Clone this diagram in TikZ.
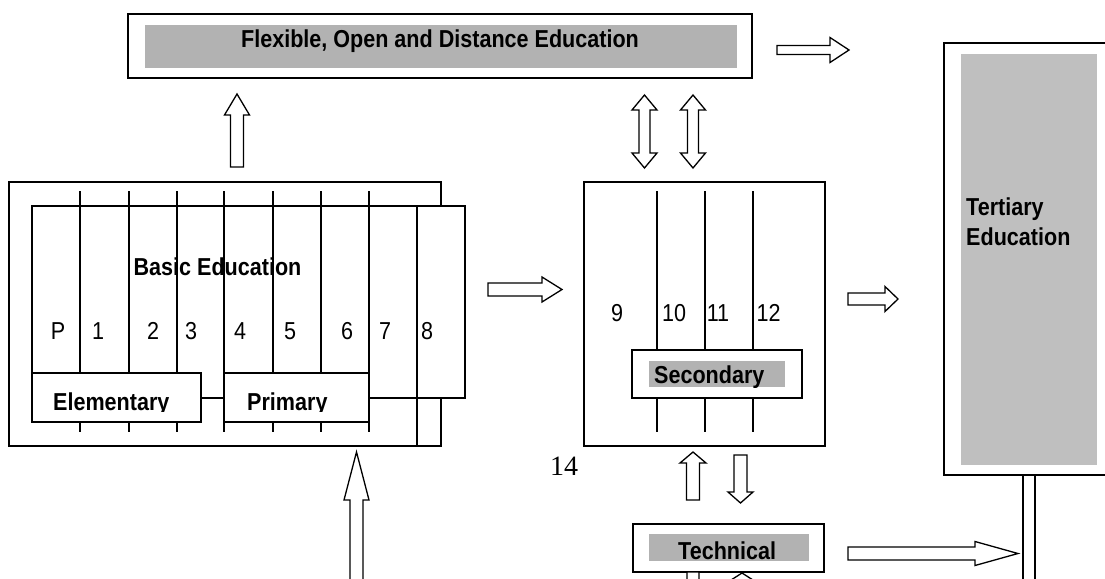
\documentclass[tikz,border=0pt]{standalone}
\usepackage{fontspec}
\setmainfont[FakeStretch=0.88]{Liberation Sans}
\newfontfamily\serf{Liberation Serif}
\definecolor{gA}{gray}{0.70}
\definecolor{gB}{gray}{0.75}
% horizontal block arrow: x tail, x head base, x tip, y, shaft half, head half
\newcommand\myharr[6]{\draw[blk] (#1,#4-#5) -- (#2,#4-#5) -- (#2,#4-#6) -- (#3,#4) -- (#2,#4+#6) -- (#2,#4+#5) -- (#1,#4+#5) -- cycle;}
% vertical block arrow: x, y tail, y head base, y tip, shaft half, head half
\newcommand\myvarr[6]{\draw[blk] (#1-#5,#2) -- (#1-#5,#3) -- (#1-#6,#3) -- (#1,#4) -- (#1+#6,#3) -- (#1+#5,#3) -- (#1+#5,#2) -- cycle;}
% vertical double arrow: x, tip1, base1, base2, tip2, shaft half, head half
\newcommand\mydarr[7]{\draw[blk] (#1,#2) -- (#1+#7,#3) -- (#1+#6,#3) -- (#1+#6,#4) -- (#1+#7,#4) -- (#1,#5) -- (#1-#7,#4) -- (#1-#6,#4) -- (#1-#6,#3) -- (#1-#7,#3) -- cycle;}
\begin{document}
\begin{tikzpicture}[x=1pt,y=-1pt,
  bx/.style={draw, line width=1.5pt, fill=white, inner sep=0pt, outer sep=0pt, anchor=north west},
  gbx/.style={fill=#1, inner sep=0pt, outer sep=0pt, anchor=north west},
  ln/.style={line width=1.5pt},
  blk/.style={draw, line width=1.3pt, fill=white, line join=miter},
  lbl/.style={font=\fontsize{24.5}{28}\selectfont\bfseries, inner sep=0pt, anchor=base west},
  num/.style={font=\fontsize{24.5}{28}\selectfont, inner sep=0pt, anchor=base}]
\useasboundingbox (0,0) rectangle (1105,578);
\clip (0,0) rectangle (1105,578);
\fill[white] (0,0) rectangle (1105,578);

% ---- Flexible, Open and Distance Education
\node[bx, minimum width=624pt, minimum height=64pt] (fode) at (128,14) {};
\node[gbx=gA, minimum width=592pt, minimum height=43pt] (fodeg) at (145,25) {};
\node[lbl, anchor=base] (fodet) at (440,48) {Flexible, Open and Distance Education};

% ---- Basic education
\node[bx, fill=none, minimum width=432pt, minimum height=264pt] (basout) at (9,182) {};
\node[bx, minimum width=433pt, minimum height=192pt] (basin) at (32,206) {};
\foreach \x in {80,129,177,224,273,321,369} {
  \draw[ln] (\x,191) -- (\x,373);
  \draw[ln] (\x,422) -- (\x,432);
}
\draw[ln] (417,206) -- (417,446);
\node[lbl, anchor=base] (bast) at (217.5,275) {Basic Education};
\node[num] (nP) at (58,339) {P};
\node[num] (n1) at (98,339) {1};
\node[num] (n2) at (153,339) {2};
\node[num] (n3) at (191,339) {3};
\node[num] (n4) at (240,339) {4};
\node[num] (n5) at (290,339) {5};
\node[num] (n6) at (347,339) {6};
\node[num] (n7) at (385,339) {7};
\node[num] (n8) at (427,339) {8};
\node[bx, minimum width=169pt, minimum height=49pt] (elem) at (32,373) {};
\node[bx, minimum width=145pt, minimum height=49pt] (prim) at (224,373) {};
\begin{scope}
  \clip (32,373) rectangle (369,411);
  \node[lbl] (elemt) at (53,410) {Elementary};
  \node[lbl] (primt) at (247,410) {Primary};
\end{scope}

% ---- Secondary
\node[bx, minimum width=241pt, minimum height=264pt] (sec) at (584,182) {};
\foreach \x in {657,705,753} {
  \draw[ln] (\x,191) -- (\x,350);
  \draw[ln] (\x,398) -- (\x,432);
}
\node[num] (n9) at (617,321) {9};
\node[num] (n10) at (674,321) {10};
\node[num] (n11) at (718,321) {11};
\node[num] (n12) at (768.5,321) {12};
\node[bx, minimum width=170pt, minimum height=48pt] (secb) at (632,350) {};
\node[gbx=gA, minimum width=136pt, minimum height=26pt] (secg) at (649,361) {};
\begin{scope}
  \clip (649,361) rectangle (785,387);
  \node[lbl] (sect) at (654,383) {Secondary};
\end{scope}

% ---- Tertiary
\node[bx, minimum width=168pt, minimum height=432pt] (tert) at (944,43) {};
\node[gbx=gB, minimum width=136pt, minimum height=411pt] (tertg) at (961,54) {};
\node[lbl] (tertt1) at (966,215) {Tertiary};
\node[lbl] (tertt2) at (966,245) {Education};
\draw[ln] (1023,475) -- (1023,590);
\draw[ln] (1035,475) -- (1035,590);

% ---- Technical
\node[bx, minimum width=191pt, minimum height=48pt] (tech) at (633,524) {};
\node[gbx=gA, minimum width=160pt, minimum height=27pt] (techg) at (649,534) {};
\node[lbl] (techt) at (678,559) {Technical};

% ---- page number
\node[font=\fontsize{28}{30}\selectfont\serf, inner sep=0pt, anchor=base west] (pg) at (550,475) {14};

% ---- block arrows
\myharr{777}{830}{849}{50}{4.5}{12.5}
\myvarr{237}{167}{115}{94}{6.5}{12.5}
\mydarr{644.5}{95}{110}{153}{168}{5.5}{12.5}
\mydarr{693}{95}{110}{153}{168}{5.5}{12.5}
\myharr{488}{542}{562}{289.5}{6.5}{12.5}
\myharr{848}{885}{898}{299}{6}{12.5}
\myvarr{693}{500}{463}{452}{6.5}{13}
\myvarr{740.5}{455}{492}{503}{6.5}{12.5}
\myharr{848}{975}{1018}{553.5}{6.5}{12}
\myvarr{356.5}{600}{500}{452}{6.5}{12.5}
\myvarr{693}{572}{640}{660}{6}{12.5}
\myvarr{742}{620}{581}{573}{6.5}{12.5}
\end{tikzpicture}
\end{document}
